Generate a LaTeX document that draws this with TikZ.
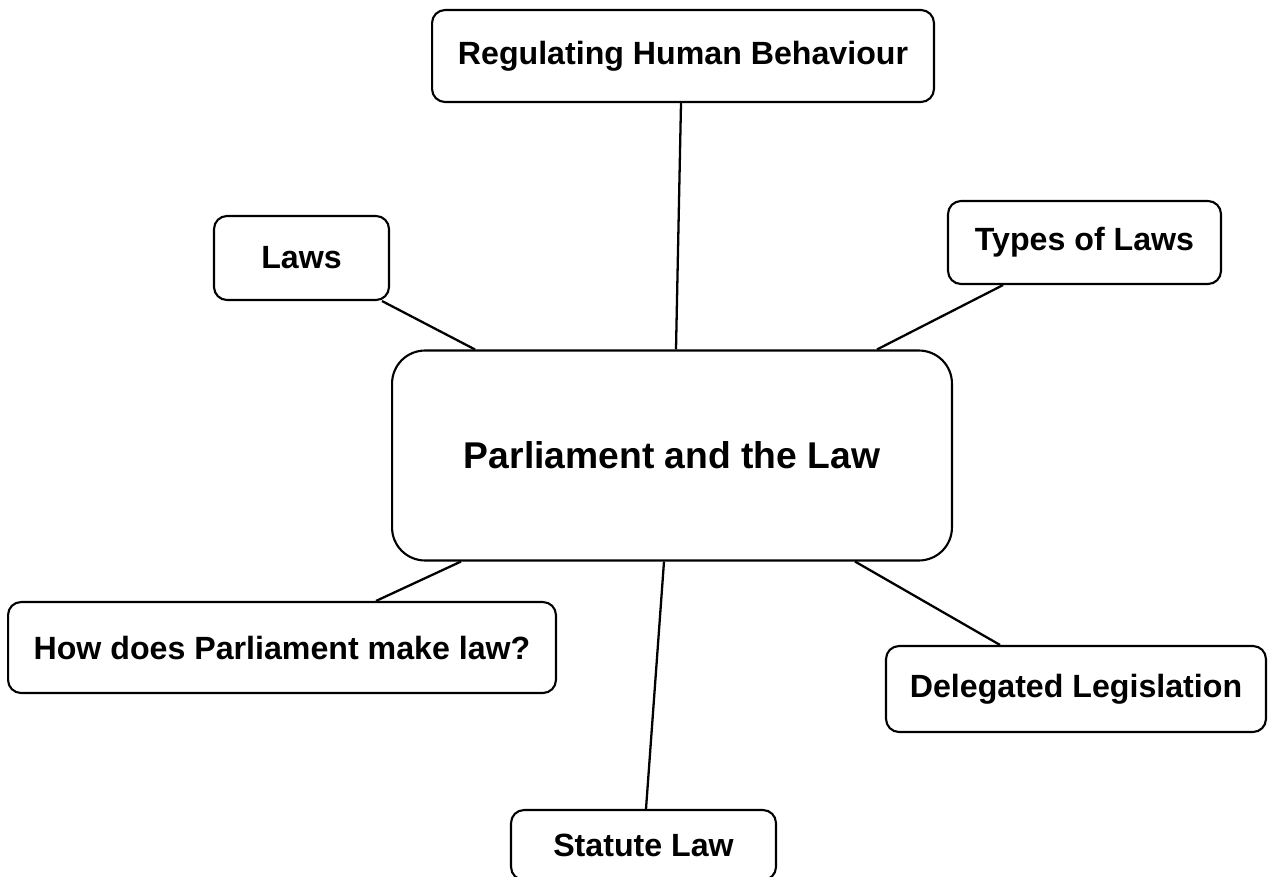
\documentclass[tikz,border=0pt]{standalone}
\usepackage{fontspec}
\setmainfont{Liberation Sans}
\usepackage{tikz}
\usetikzlibrary{%
	positioning,% wg. " of "
	calc
}
\tikzstyle{topic}=[rectangle, rounded corners=0.26cm, line width = 1.2pt, draw = black, align=center, font=\fontsize{18.3}{22}\selectfont\bfseries]
\tikzstyle{hub} = [topic, rounded corners=0.66cm, font=\fontsize{21.2}{25}\selectfont\bfseries]
\tikzstyle{link} = [draw, line width=1.3pt]

\begin{document}
\begin{tikzpicture}[x=0.02cm,y=-0.02cm]
	
	\useasboundingbox (0,0) rectangle (1268,876);
	
	% First we draw the centre
	\node[hub, minimum width=11.2cm, minimum height=4.2cm] (law) at (672,455.5) {Parliament and the Law};
	
	% Then the topics around it
	\foreach \pos/\name/\boxw/\boxh/\txt in {
		{(683,56)/behaviour/10.04/1.84/Regulating Human Behaviour},
		{(301.5,258)/laws/3.5/1.68/Laws},
		{(1084.5,242.5)/types/5.46/1.66/Types of Laws},
		{(282,647.5)/how/10.96/1.82/How does Parliament make law?},
		{(1076,689)/delegated/7.6/1.72/Delegated Legislation},
		{(643.5,845)/statute/5.3/1.4/Statute Law}}
	\node[topic, minimum width=\boxw cm, minimum height=\boxh cm] (\name) at \pos {\txt};
	
	% Connect topics with the centre
	\path[link] ([xshift=-0.04cm]behaviour.south) -- ([xshift=0.08cm]law.north);
	\path[link] ([xshift=-0.16cm]laws.south east) -- ([xshift=1.68cm]law.north west);
	\path[link] ([xshift=-1.63cm]types.south) -- ([xshift=-1.52cm]law.north east);
	\path[link] ([xshift=1.88cm]how.north) -- ([xshift=1.4cm]law.south west);
	\path[link] ([xshift=-1.52cm]delegated.north) -- ([xshift=-1.96cm]law.south east);
	\path[link] ([xshift=0.05cm]statute.north) -- ([xshift=-0.16cm]law.south);
	
\end{tikzpicture}
\end{document}
